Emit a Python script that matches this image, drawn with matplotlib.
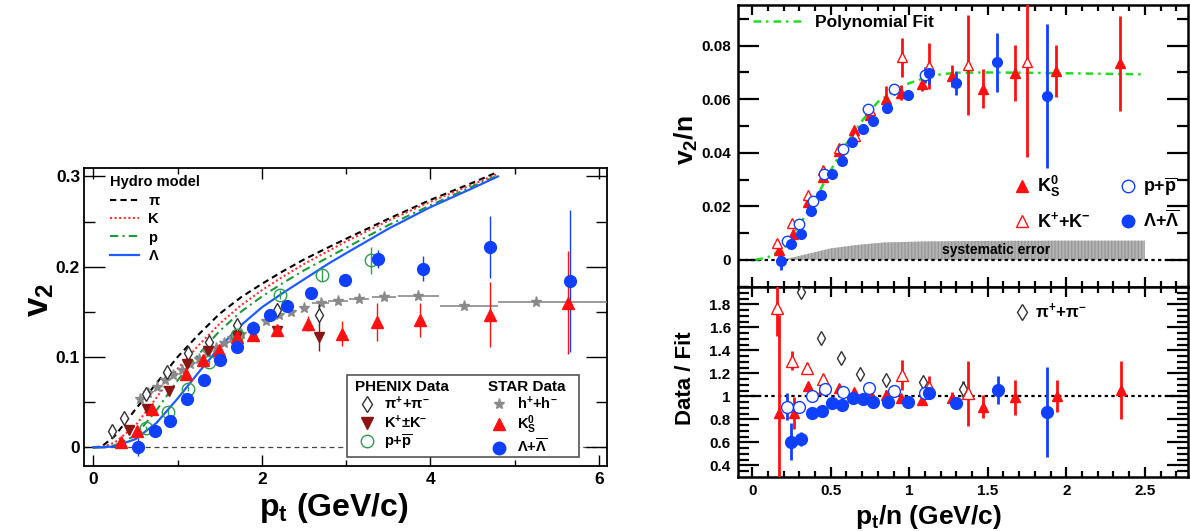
import numpy as np
import matplotlib
matplotlib.use("Agg")
import matplotlib.pyplot as plt
from matplotlib.ticker import MultipleLocator, FuncFormatter
from matplotlib.lines import Line2D
from matplotlib.patches import Rectangle

plt.rcParams['font.family'] = ['Liberation Sans', 'DejaVu Sans']
plt.rcParams['font.weight'] = 'bold'
plt.rcParams['mathtext.fontset'] = 'custom'
plt.rcParams['mathtext.rm'] = 'Liberation Sans:bold'
plt.rcParams['mathtext.it'] = 'Liberation Sans:bold'
plt.rcParams['mathtext.bf'] = 'Liberation Sans:bold'
plt.rcParams['mathtext.sf'] = 'Liberation Sans:bold'

# ---------------- left panel: v2 vs pt ----------------
hydro_pt = [0, 0.1, 0.25, 0.5, 0.75, 1.0, 1.25, 1.5, 1.75, 2.0, 2.25, 2.5, 2.8, 3.0, 3.5, 4.0, 4.5, 4.8]
hydro_pi = [0, 0.001, 0.012, 0.042, 0.071, 0.100, 0.125, 0.148, 0.166, 0.181, 0.195, 0.208, 0.222, 0.231, 0.253, 0.274, 0.293, 0.305]
hydro_k = [0, 0.0005, 0.005, 0.024, 0.055, 0.087, 0.113, 0.137, 0.157, 0.174, 0.189, 0.203, 0.218, 0.228, 0.251, 0.272, 0.291, 0.303]
hydro_p = [0, 0.0002, 0.002, 0.013, 0.041, 0.074, 0.103, 0.129, 0.150, 0.167, 0.182, 0.196, 0.211, 0.221, 0.246, 0.268, 0.289, 0.301]
hydro_lam = [0, 0.0001, 0.001, 0.009, 0.027, 0.054, 0.083, 0.111, 0.135, 0.155, 0.171, 0.186, 0.204, 0.215, 0.242, 0.266, 0.287, 0.300]

phx_pi_pt = [0.22, 0.37, 0.63, 0.87, 1.12, 1.37, 1.70, 2.18, 2.68]
phx_pi_v2 = [0.018, 0.033, 0.059, 0.083, 0.104, 0.117, 0.135, 0.152, 0.147]
phx_pi_err = [0.002, 0.002, 0.002, 0.002, 0.002, 0.002, 0.003, 0.004, 0.012]

phx_k_pt = [0.42, 0.64, 0.90, 1.11, 1.36, 1.70, 2.18, 2.68]
phx_k_v2 = [0.019, 0.042, 0.062, 0.092, 0.107, 0.123, 0.129, 0.122]
phx_k_err = [0.003, 0.003, 0.003, 0.003, 0.004, 0.004, 0.006, 0.015]

phx_p_pt = [0.63, 0.89, 1.12, 1.37, 1.71, 2.21, 2.71, 3.30]
phx_p_v2 = [0.021, 0.039, 0.065, 0.095, 0.124, 0.169, 0.191, 0.207]
phx_p_err = [0.003, 0.003, 0.003, 0.003, 0.004, 0.005, 0.007, 0.015]

star_h_pt = [0.55, 0.65, 0.75, 0.85, 0.95, 1.05, 1.15, 1.25, 1.35, 1.45, 1.55, 1.65, 1.75, 1.9,
             2.05, 2.2, 2.35, 2.5, 2.7, 2.9, 3.15, 3.45, 3.85, 4.4, 5.25]
star_h_v2 = [0.053, 0.060, 0.067, 0.074, 0.080, 0.086, 0.092, 0.098, 0.105, 0.110, 0.116, 0.121,
             0.126, 0.133, 0.140, 0.146, 0.150, 0.154, 0.160, 0.162, 0.164, 0.166, 0.168, 0.156, 0.161]
star_h_xlo = [0] * 18 + [0.1, 0.12, 0.12, 0.14, 0.23, 0.29, 0.45]
star_h_xhi = [0] * 18 + [0.1, 0.12, 0.12, 0.14, 0.25, 0.40, 0.90]

star_k0_pt = [0.33, 0.52, 0.70, 1.10, 1.30, 1.49, 1.70, 1.89, 2.18, 2.55, 2.95, 3.36, 3.88, 4.71, 5.63]
star_k0_v2 = [0.006, 0.018, 0.042, 0.081, 0.097, 0.108, 0.122, 0.124, 0.130, 0.137, 0.126, 0.139, 0.141, 0.147, 0.160]
star_k0_err = [0.003, 0.003, 0.003, 0.003, 0.003, 0.003, 0.004, 0.004, 0.005, 0.008, 0.014, 0.021, 0.019, 0.036, 0.057]

star_lam_pt = [0.53, 0.73, 0.91, 1.11, 1.31, 1.50, 1.70, 1.90, 2.10, 2.30, 2.58, 2.99, 3.38, 3.91, 4.71, 5.66]
star_lam_v2 = [0.000, 0.018, 0.029, 0.054, 0.074, 0.097, 0.111, 0.132, 0.147, 0.156, 0.171, 0.185, 0.209, 0.198, 0.222, 0.184]
star_lam_err = [0.010, 0.003, 0.003, 0.003, 0.003, 0.003, 0.003, 0.003, 0.003, 0.004, 0.004, 0.005, 0.010, 0.014, 0.034, 0.079]

# ---------------- right panels: v2/n vs pt/n ----------------
fit_x = [0.02, 0.1, 0.2, 0.3, 0.4, 0.5, 0.6, 0.7, 0.8, 0.9, 1.0, 1.1, 1.2, 1.3, 1.5, 1.75, 2.0, 2.25, 2.5]
fit_y = [0.0, 0.001, 0.004, 0.013, 0.0225, 0.0335, 0.0435, 0.052, 0.059, 0.063, 0.066, 0.068,
         0.0693, 0.0699, 0.0700, 0.0699, 0.0697, 0.0695, 0.0693]

sys_x = [0.18, 0.25, 0.35, 0.5, 0.67, 0.84, 1.1, 1.5, 2.0, 2.5]
sys_hi = [0.0, 0.0008, 0.0022, 0.0043, 0.0056, 0.0065, 0.0069, 0.0071, 0.0072, 0.0072]

k0s_x = [0.172, 0.261, 0.357, 0.452, 0.552, 0.648, 0.749, 0.851, 0.945, 1.083, 1.274, 1.471, 1.673, 1.934, 2.342]
k0s_v = [0.0037, 0.0097, 0.0218, 0.0309, 0.0408, 0.0485, 0.0541, 0.060, 0.0625, 0.0656, 0.0687, 0.064, 0.0699, 0.0705, 0.0734]
k0s_e = [0.0025, 0.001, 0.001, 0.001, 0.001, 0.0012, 0.0015, 0.005, 0.0028, 0.0025, 0.004, 0.0073, 0.0105, 0.0098, 0.0177]

kk_x = [0.159, 0.255, 0.353, 0.452, 0.554, 0.654, 0.75, 0.951, 1.125, 1.372, 1.748]
kk_v = [0.0065, 0.0139, 0.0243, 0.0336, 0.0419, 0.0463, 0.056, 0.0757, 0.0725, 0.0728, 0.074]
kk_e = [0.001, 0.001, 0.001, 0.001, 0.001, 0.001, 0.0015, 0.0073, 0.0085, 0.0187, 0.0355]

pp_x = [0.219, 0.30, 0.385, 0.459, 0.576, 0.739, 0.903, 1.10]
pp_v = [0.0072, 0.0133, 0.022, 0.032, 0.0414, 0.0562, 0.0637, 0.069]
pp_e = [0.0005, 0.0005, 0.0005, 0.0008, 0.001, 0.001, 0.002, 0.003]

lam_x = [0.181, 0.245, 0.31, 0.374, 0.438, 0.506, 0.569, 0.637, 0.703, 0.767, 0.86, 0.994, 1.125, 1.297, 1.561, 1.875]
lam_v = [-0.0003, 0.0059, 0.0096, 0.0183, 0.0243, 0.032, 0.037, 0.0442, 0.0489, 0.0519, 0.0568, 0.0616,
         0.0697, 0.066, 0.0738, 0.0612]
lam_e = [0.0035, 0.0005, 0.0005, 0.0005, 0.0005, 0.0005, 0.0005, 0.0006, 0.0007, 0.0008, 0.001, 0.0015,
         0.004, 0.0045, 0.011, 0.027]

# ratio to fit
lam_r_x = [0.246, 0.31, 0.378, 0.442, 0.506, 0.573, 0.64, 0.703, 0.767, 0.862, 0.994, 1.127, 1.297, 1.567, 1.879]
lam_r = [0.605, 0.626, 0.857, 0.875, 0.939, 0.924, 0.983, 0.974, 0.953, 0.953, 0.948, 1.026, 0.944, 1.055, 0.866]
lam_r_e = [0.16, 0.06, 0.02, 0.02, 0.02, 0.02, 0.02, 0.02, 0.02, 0.02, 0.03, 0.05, 0.05, 0.12, 0.39]

pp_r_x = [0.219, 0.297, 0.382, 0.463, 0.576, 0.743, 0.903, 1.10]
pp_r = [0.91, 0.91, 1.003, 1.06, 1.04, 1.07, 1.049, 1.026]
pp_r_e = [0.12, 0.03, 0.02, 0.02, 0.02, 0.02, 0.03, 0.04]

k0s_r_x = [0.17, 0.266, 0.357, 0.452, 0.554, 0.65, 0.756, 0.85, 0.947, 1.083, 1.274, 1.471, 1.673, 1.939, 2.347]
k0s_r = [0.857, 0.857, 1.09, 1.06, 1.07, 1.04, 1.011, 1.011, 0.983, 0.968, 0.983, 0.91, 0.991, 1.003, 1.055]
k0s_r_e = [0.85, 0.14, 0.03, 0.03, 0.03, 0.02, 0.03, 0.04, 0.02, 0.03, 0.05, 0.1, 0.15, 0.14, 0.25]

kk_r_x = [0.16, 0.255, 0.35, 0.452, 0.951, 1.125, 1.376]
kk_r = [1.77, 1.31, 1.25, 1.15, 1.185, 1.078, 1.026]
kk_r_e = [0.25, 0.08, 0.04, 0.03, 0.13, 0.1, 0.28]

pi_r_x = [0.31, 0.438, 0.563, 0.686, 0.852, 1.09, 1.34]
pi_r = [1.904, 1.51, 1.33, 1.194, 1.142, 1.127, 1.06]
pi_r_e = [0, 0, 0, 0, 0, 0, 0.07]

RED = '#ff1010'
BLUE = '#1040ff'
DKRED = '#8b1414'
GREEN = '#2e9e50'
GRAY = '#8a8a8a'


def fmt(v, pos):
    return '%g' % round(v, 6)


fig = plt.figure(figsize=(11.9, 5.31), dpi=100)

# ======================= left =======================
ax = fig.add_axes([0.0708, 0.1224, 0.4393, 0.5612])
ax.set_xlim(-0.107, 6.094)
ax.set_ylim(-0.0207, 0.3093)
ax.axhline(0, color='#444444', ls=(0, (4, 3)), lw=0.9, zorder=1)

l_pi, = ax.plot(hydro_pt, hydro_pi, color='black', ls=(0, (3, 2)), lw=1.5)
l_k, = ax.plot(hydro_pt, hydro_k, color='#ff3030', ls=(0, (1, 1.2)), lw=1.5)
l_p, = ax.plot(hydro_pt, hydro_p, color='#1a9a3a', ls=(0, (4, 2, 1, 2)), lw=1.5)
l_l, = ax.plot(hydro_pt, hydro_lam, color='#1f5cff', ls='-', lw=1.6)

ax.errorbar(star_h_pt, star_h_v2, xerr=[star_h_xlo, star_h_xhi], fmt='*', color=GRAY,
            ms=8, elinewidth=1.2, capsize=0, zorder=3)
ax.errorbar(phx_pi_pt, phx_pi_v2, yerr=phx_pi_err, fmt='d', mfc='white', mec='#333333', mew=1,
            color='#333333', ms=7, elinewidth=1, capsize=0, zorder=4)
ax.errorbar(phx_k_pt, phx_k_v2, yerr=phx_k_err, fmt='v', color=DKRED, ms=7.5,
            elinewidth=1, capsize=0, zorder=4)
ax.errorbar(phx_p_pt, phx_p_v2, yerr=phx_p_err, fmt='o', mfc='none', mec=GREEN, color=GREEN,
            mew=1, ms=9, elinewidth=1, capsize=0, zorder=4)
ax.errorbar(star_k0_pt, star_k0_v2, yerr=star_k0_err, fmt='^', color=RED, ms=8,
            elinewidth=1, capsize=0, zorder=5)
ax.errorbar(star_lam_pt, star_lam_v2, yerr=star_lam_err, fmt='o', color=BLUE, ms=8.5,
            elinewidth=1, capsize=0, zorder=5)

ax.xaxis.set_major_locator(MultipleLocator(2))
ax.xaxis.set_minor_locator(MultipleLocator(1))
ax.yaxis.set_major_locator(MultipleLocator(0.1))
ax.yaxis.set_minor_locator(MultipleLocator(0.05))
ax.xaxis.set_major_formatter(FuncFormatter(fmt))
ax.yaxis.set_major_formatter(FuncFormatter(fmt))
ax.tick_params(which='both', direction='in', top=True, right=True, labelsize=12.5, width=1)
ax.tick_params(axis='x', which='major', length=8, pad=4)
ax.tick_params(axis='x', which='minor', length=4)
ax.tick_params(axis='y', which='major', length=15, pad=3)
ax.tick_params(axis='y', which='minor', length=8)
for s in ax.spines.values():
    s.set_linewidth(1.3)

leg1 = ax.legend([l_pi, l_k, l_p, l_l], [r'$\pi$', 'K', 'p', r'$\Lambda$'], title='Hydro model',
                 loc='upper left', bbox_to_anchor=(0.049, 0.975), frameon=False, fontsize=10.5,
                 title_fontsize=10.5, handlelength=2.0, handletextpad=0.6, labelspacing=0.3,
                 borderpad=0, borderaxespad=0, alignment='left')
ax.add_artist(leg1)

ax.add_patch(Rectangle((0.5026, 0.0302), 0.4438, 0.2752, transform=ax.transAxes,
                       facecolor='white', edgecolor='#555555', lw=1.2, zorder=6))
phx_handles = [Line2D([], [], ls='none', marker='d', mfc='white', mec='#333333', ms=8),
               Line2D([], [], ls='none', marker='v', color=DKRED, ms=8),
               Line2D([], [], ls='none', marker='o', mfc='none', mec=GREEN, ms=9)]
star_handles = [Line2D([], [], ls='none', marker='*', color=GRAY, ms=8),
                Line2D([], [], ls='none', marker='^', color=RED, ms=9),
                Line2D([], [], ls='none', marker='o', color=BLUE, ms=9)]
leg2 = ax.legend(phx_handles, [r'$\pi^{+}$+$\pi^{-}$', r'K$^{+}$$\pm$K$^{-}$', r'p+$\overline{\rm p}$'],
                 title='PHENIX Data', loc='upper left', bbox_to_anchor=(0.518, 0.29),
                 frameon=False, fontsize=10.5, title_fontsize=11, handlelength=1.6,
                 handletextpad=0.4, labelspacing=0.1, borderpad=0, borderaxespad=0, alignment='left')
leg2.set_zorder(7)
ax.add_artist(leg2)
leg3 = ax.legend(star_handles, [r'h$^{+}$+h$^{-}$', r'K$^{0}_{S}$', r'$\Lambda$+$\overline{\Lambda}$'],
                 title='STAR Data', loc='upper left', bbox_to_anchor=(0.772, 0.29),
                 frameon=False, fontsize=10.5, title_fontsize=11, handlelength=1.6,
                 handletextpad=0.4, labelspacing=0.1, borderpad=0, borderaxespad=0, alignment='left')
leg3.set_zorder(7)

fig.text(40 / 1190, 1 - 300 / 531, r'v$_{2}$', rotation=90, fontsize=25, ha='center', va='center')
fig.text(334 / 1190, 1 - 508 / 531, r'p$_{t}$ (GeV/c)', fontsize=23, ha='center', va='center')

# ======================= right top =======================
ax2 = fig.add_axes([0.6199, 0.4601, 0.3784, 0.5305])
ax3 = fig.add_axes([0.6199, 0.1023, 0.3784, 0.3578], sharex=ax2)
ax2.set_xlim(-0.093, 2.775)
ax2.set_ylim(-0.0100, 0.0952)
ax3.set_ylim(0.301, 1.953)

ax2.fill_between(sys_x, 0, sys_hi, facecolor='#b4b4b4', edgecolor='#9a9a9a', hatch='|||||', lw=0, zorder=1)
ax2.text(1.55, 0.0037, 'systematic error', fontsize=10, ha='center', va='center', zorder=2)
ax2.axhline(0, color='black', ls=(0, (1.5, 1.5)), lw=1.6, zorder=2)
f_line, = ax2.plot(fit_x, fit_y, color='#22dd22', ls=(0, (3, 2, 1, 2)), lw=1.8, zorder=2)

ekw = dict(capsize=0, elinewidth=2, zorder=4)
ax2.errorbar(k0s_x, k0s_v, yerr=k0s_e, fmt='^', color=RED, ms=7, **ekw)
ax2.errorbar(kk_x, kk_v, yerr=kk_e, fmt='^', color=RED, mfc='white', mec=RED, mew=1, ms=7.5, **ekw)
ax2.errorbar(pp_x, pp_v, yerr=pp_e, fmt='o', color=BLUE, mfc='white', mec=BLUE, mew=1, ms=7.5, **ekw)
ax2.errorbar(lam_x, lam_v, yerr=lam_e, fmt='o', color=BLUE, ms=7, **ekw)

legf = ax2.legend([f_line], ['Polynomial Fit'], loc='upper left', bbox_to_anchor=(0.034, 0.965),
                  frameon=False, fontsize=12.5, handlelength=2.9, handletextpad=0.65,
                  borderpad=0, borderaxespad=0)
ax2.add_artist(legf)
r_handles = [Line2D([], [], ls='none', marker='^', color=RED, ms=8),
             Line2D([], [], ls='none', marker='^', mfc='white', mec=RED, ms=9),
             Line2D([], [], ls='none', marker='o', mfc='white', mec=BLUE, ms=9),
             Line2D([], [], ls='none', marker='o', color=BLUE, ms=9)]
ax2.legend(r_handles, [r'K$^{0}_{S}$', r'K$^{+}$+K$^{-}$', r'p+$\overline{\rm p}$', r'$\Lambda$+$\overline{\Lambda}$'],
           ncol=2, loc='upper left', bbox_to_anchor=(0.612, 0.40), frameon=False, fontsize=13,
           handlelength=1.0, handletextpad=0.3, columnspacing=1.6, labelspacing=0.65,
           borderpad=0, borderaxespad=0)

# ======================= right bottom =======================
ax3.axhline(1, color='black', ls=(0, (1.5, 1.5)), lw=1.6, zorder=2)
ax3.errorbar(pi_r_x, pi_r, yerr=pi_r_e, fmt='d', color='#333333', mfc='white', mec='#333333',
             mew=1, ms=7, **ekw)
ax3.errorbar(k0s_r_x, k0s_r, yerr=k0s_r_e, fmt='^', color=RED, ms=7.5, **ekw)
ax3.errorbar(kk_r_x, kk_r, yerr=kk_r_e, fmt='^', color=RED, mfc='white', mec=RED, mew=1, ms=8.5, **ekw)
ax3.errorbar(pp_r_x, pp_r, yerr=pp_r_e, fmt='o', color=BLUE, mfc='white', mec=BLUE, mew=1, ms=8.5, **ekw)
ax3.errorbar(lam_r_x, lam_r, yerr=lam_r_e, fmt='o', color=BLUE, ms=8.5, **ekw)
ax3.legend([Line2D([], [], ls='none', marker='d', mfc='white', mec='#333333', ms=8)],
           [r'$\pi^{+}$+$\pi^{-}$'], loc='upper left', bbox_to_anchor=(0.612, 0.92), frameon=False,
           fontsize=12, handlelength=1.0, handletextpad=0.3, borderpad=0, borderaxespad=0)

for a in (ax2, ax3):
    a.xaxis.set_major_locator(MultipleLocator(0.5))
    a.xaxis.set_minor_locator(MultipleLocator(0.1))
    a.xaxis.set_major_formatter(FuncFormatter(fmt))
    a.yaxis.set_major_formatter(FuncFormatter(fmt))
    a.tick_params(which='both', direction='in', top=True, right=True, labelsize=11, width=1.6)
    a.tick_params(axis='x', which='major', length=7, pad=5)
    a.tick_params(axis='x', which='minor', length=4)
    a.tick_params(axis='y', which='major', length=15, pad=5)
    a.tick_params(axis='y', which='minor', length=8)
    for s in a.spines.values():
        s.set_linewidth(1.8)
ax2.yaxis.set_major_locator(MultipleLocator(0.02))
ax2.yaxis.set_minor_locator(MultipleLocator(0.01))
ax3.yaxis.set_major_locator(MultipleLocator(0.2))
ax3.yaxis.set_minor_locator(MultipleLocator(0.05))
ax2.tick_params(labelbottom=False)

fig.text(686 / 1190, 1 - 140 / 531, r'v$_{2}$/n', rotation=90, fontsize=19, ha='center', va='center')
fig.text(686 / 1190, 1 - 378 / 531, 'Data / Fit', rotation=90, fontsize=16, ha='center', va='center')
fig.text(929 / 1190, 1 - 517 / 531, r'p$_{t}$/n (GeV/c)', fontsize=19, ha='center', va='center')

fig.savefig('out.png', dpi=100)
